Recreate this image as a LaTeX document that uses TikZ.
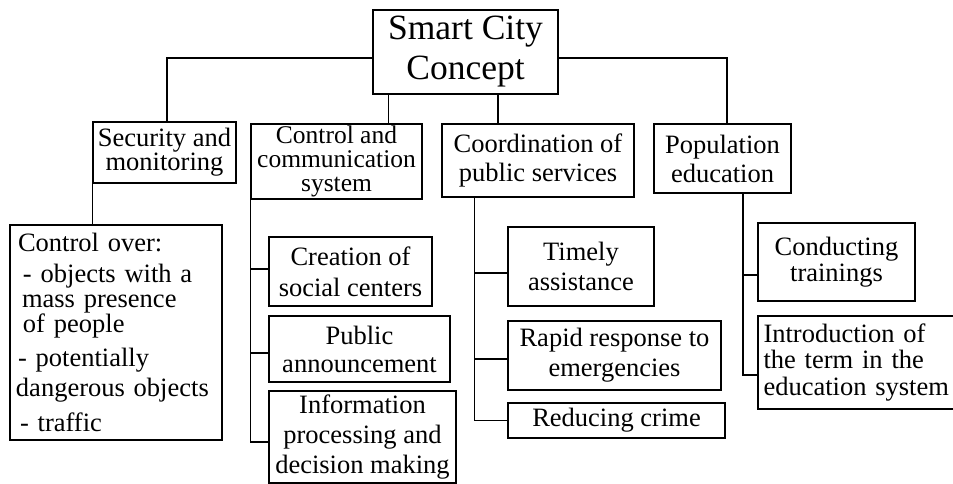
\documentclass[tikz,border=0pt]{standalone}
\usepackage{fontspec}
\setmainfont{Liberation Serif}
\newcommand{\boxfont}[1]{\fontsize{26.5}{#1}\selectfont}

\begin{document}
\begin{tikzpicture}[x=1pt, y=-1pt]
  \tikzstyle{block} = [rectangle, draw, line width=1.2pt, inner sep=0pt, align=center]
  \tikzstyle{link} = [line width=1.2pt]
  \useasboundingbox (0,0) rectangle (953,484);

  \node [block, minimum width=185, minimum height=84, font=\fontsize{35.5}{40}\selectfont] (city) at (465.5,52) {Smart City\\Concept};

  \node [block, minimum width=143, minimum height=61, font=\boxfont{22.5}] (sec) at (164.5,152.5) {Security and\\monitoring};
  \node [block, minimum width=171, minimum height=75, font=\fontsize{25.5}{24}\selectfont] (ctrl) at (336.5,161.5) {Control and\\communication\\system};
  \node [block, minimum width=192, minimum height=73, font=\boxfont{29}] (coord) at (538,160.5) {Coordination of\\public services};
  \node [block, minimum width=137, minimum height=69, font=\boxfont{29}] (pop) at (722.5,158.5) {Population\\education};

  \node [block, align=left, text width=196, minimum width=212, minimum height=215, font=\boxfont{25}] (over) at (116,332.5) {Control over:\\[6pt]
    \hspace*{5pt}- objects with a\\
    \hspace*{4pt}mass presence\\
    \hspace*{5pt}of people\\[9pt]
    - potentially\\[5pt]
    \hspace*{-2pt}dangerous objects\\[10pt]
    \hspace*{2pt}- traffic};

  \node [block, minimum width=163, minimum height=69, font=\boxfont{31}] (creat) at (350.5,271.5) {Creation of\\social centers};
  \node [block, minimum width=181, minimum height=66, font=\boxfont{28}] (pub) at (359.5,349) {Public\\announcement};
  \node [block, minimum width=187, minimum height=92, font=\boxfont{30}] (info) at (362.5,437) {Information\\processing and\\decision making};

  \node [block, minimum width=146, minimum height=79, font=\boxfont{30}] (time) at (581,266.5) {Timely\\assistance};
  \node [block, minimum width=213, minimum height=69, font=\boxfont{30}] (rapid) at (614.5,355.5) {Rapid response to\\emergencies};
  \node [block, minimum width=217, minimum height=35, font=\boxfont{30}] (crime) at (616.5,420.5) {Reducing crime};

  \node [block, minimum width=157, minimum height=78, font=\boxfont{26}] (train) at (836.5,262) {Conducting\\trainings};
  \node [block, align=left, text width=188, minimum width=199, minimum height=93, font=\boxfont{26.5}] (intro) at (857.5,362.5) {Introduction of\\the term in the\\education system};

  \draw[link] ([yshift=-6]city.west) -| ([xshift=2.5]sec.north);
  \draw[link] ([yshift=-6]city.east) -| ([xshift=4.5]pop.north);
  \draw[link] ([xshift=16]city.south west) -- ([xshift=16]city.south west |- ctrl.north);
  \draw[link] ([xshift=-40]coord.north) -- ([xshift=-40]coord.north |- city.south);

  \draw[link] (sec.south west) -- (sec.south west |- over.north);

  \draw[link] (ctrl.south west) |- ([yshift=2.5]creat.west);
  \draw[link] (ctrl.south west) |- ([yshift=-4]pub.west);
  \draw[link] (ctrl.south west) |- ([yshift=-5]info.west);

  \draw[link] ([xshift=33]coord.south west) |- ([yshift=-6.5]time.west);
  \draw[link] ([xshift=33]coord.south west) |- ([yshift=-3.5]rapid.west);
  \draw[link] ([xshift=33]coord.south west) |- (crime.west);

  \draw[link] ([xshift=20.5]pop.south) |- ([yshift=-13]train.west);
  \draw[link] ([xshift=20.5]pop.south) |- ([yshift=-12.5]intro.west);
\end{tikzpicture}
\end{document}
